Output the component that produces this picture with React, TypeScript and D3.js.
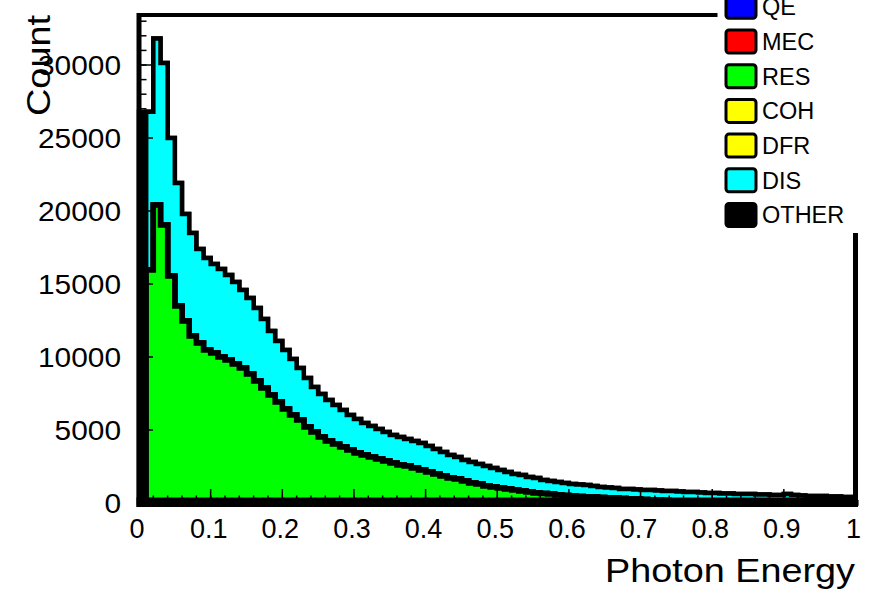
import React, { useEffect } from "react";
import * as d3 from "d3";

// ---------- data (100 bins from 0 to 1) ----------
const X_DOMAIN = [0, 1];
const N_BINS = 100;

const RES = [
  0, 15960, 20410, 19040, 15550, 13500, 12470, 11440, 10960, 10480,
  10280, 10000, 9800, 9520, 9250, 8840, 8360, 7880, 7400, 6920,
  6440, 6030, 5690, 5210, 4860, 4520, 4250, 4040, 3840, 3630,
  3430, 3290, 3150, 3010, 2880, 2740, 2600, 2530, 2400, 2260,
  2120, 1990, 1850, 1710, 1640, 1510, 1370, 1300, 1160, 1100,
  1030, 960, 890, 820, 750, 690, 650, 620, 550, 510,
  480, 450, 410, 410, 380, 340, 340, 310, 270, 270,
  240, 210, 190, 170, 150, 140, 120, 110, 100, 90,
  80, 75, 70, 60, 55, 50, 45, 40, 40, 35,
  30, 30, 28, 25, 22, 20, 18, 16, 15, 14,
];

const DIS = [
  0, 10840, 11410, 11100, 9450, 8420, 7330, 7060, 6440, 6300,
  6090, 6030, 5820, 5620, 5340, 5200, 5000, 4720, 4380, 4180,
  4040, 3830, 3560, 3350, 3090, 2950, 2810, 2670, 2530, 2400,
  2320, 2190, 2120, 2060, 1980, 1920, 1920, 1850, 1850, 1850,
  1780, 1710, 1640, 1580, 1510, 1440, 1440, 1370, 1370, 1300,
  1230, 1160, 1100, 1100, 1030, 1020, 930, 890, 890, 860,
  820, 820, 820, 750, 720, 720, 690, 650, 690, 650,
  650, 680, 670, 650, 670, 650, 630, 640, 620, 600,
  610, 575, 580, 560, 565, 570, 535, 540, 510, 515,
  590, 520, 482, 455, 458, 460, 432, 434, 395, 396,
];

const OTHER = [
  26800, 0, 0, 0, 0, 0, 0, 0, 0, 0, 0, 0, 0, 0, 0, 0, 0, 0, 0, 0,
  0, 0, 0, 0, 0, 0, 0, 0, 0, 0, 0, 0, 0, 0, 0, 0, 0, 0, 0, 0,
  0, 0, 0, 0, 0, 0, 0, 0, 0, 0, 0, 0, 0, 0, 0, 0, 0, 0, 0, 0,
  0, 0, 0, 0, 0, 0, 0, 0, 0, 0, 0, 0, 0, 0, 0, 0, 0, 0, 0, 0,
  0, 0, 0, 0, 0, 0, 0, 0, 0, 0, 0, 0, 0, 0, 0, 0, 0, 0, 0, 0,
];

const QE = [
  0, 0, 0, 0, 0, 0, 0, 0, 0, 0, 0, 0, 0, 0, 0, 0, 0, 0, 0, 0,
  0, 0, 0, 0, 0, 0, 0, 0, 0, 0, 0, 0, 0, 0, 0, 0, 0, 0, 0, 0,
  0, 0, 0, 0, 0, 0, 0, 0, 0, 0, 0, 0, 0, 0, 0, 0, 0, 0, 0, 0,
  0, 0, 0, 0, 0, 0, 0, 0, 0, 0, 0, 0, 0, 0, 0, 0, 0, 0, 0, 0,
  0, 0, 0, 0, 0, 0, 0, 0, 0, 0, 0, 0, 0, 0, 0, 0, 0, 0, 0, 0,
];
const MEC = QE;
const COH = QE;
const DFR = QE;

const SERIES_NAMES = ["QE", "MEC", "RES", "COH", "DFR", "DIS", "OTHER"];
const SERIES_VALUES = [QE, MEC, RES, COH, DFR, DIS, OTHER];
const SERIES_COLORS = ["#0000ff", "#ff0000", "#00ff00", "#ffff00", "#ffff00", "#00ffff", "#000000"];
const SERIES_LINE = [4.5, 4.5, 5.5, 5.5, 5.5, 4.5, 4.5];

const X_TICK_LABELS = ["0", "0.1", "0.2", "0.3", "0.4", "0.5", "0.6", "0.7", "0.8", "0.9", "1"];
const Y_TICK_VALUES = [0, 5000, 10000, 15000, 20000, 25000, 30000];
const Y_MAX = 33425;

const X_TITLE = "Photon Energy";
const Y_TITLE = "Count";

const FONT = "'Liberation Sans', Arial, Helvetica, sans-serif";

export default function App() {
  useEffect(() => {
    document.body.style.margin = "0";
  }, []);

  const W = 872;
  const H = 593;
  const x = d3.scaleLinear().domain(X_DOMAIN).range([139, 855.5]);
  const y = d3.scaleLinear().domain([0, Y_MAX]).range([503, 15]);

  const binW = (X_DOMAIN[1] - X_DOMAIN[0]) / N_BINS;
  const edges = d3.range(N_BINS + 1).map((i) => X_DOMAIN[0] + i * binW);

  // cumulative stack
  const cumulative: number[][] = [];
  SERIES_VALUES.forEach((vals, s) => {
    cumulative.push(vals.map((v, i) => v + (s > 0 ? cumulative[s - 1][i] : 0)));
  });

  const area = d3
    .area<[number, number]>()
    .x((d) => x(d[0]))
    .y0(y(0))
    .y1((d) => y(d[1]))
    .curve(d3.curveStepAfter);

  const pathFor = (vals: number[]) => {
    const pts: [number, number][] = vals.map((v, i) => [edges[i], v]);
    pts.push([edges[N_BINS], vals[N_BINS - 1]]);
    return area(pts) as string;
  };

  const order = d3.range(SERIES_NAMES.length).reverse();

  const xMajor = d3.range(0, 11).map((i) => i / 10);
  const xMinor = d3.range(0, 51).map((i) => i / 50);
  const yMinor = d3.range(0, Y_MAX, 1000);

  const legendY0 = 6.8;
  const legendStep = 34.7;

  return (
    <svg
      width={W}
      height={H}
      viewBox={`0 0 ${W} ${H}`}
      style={{ position: "absolute", left: 0, top: 0, background: "#fff" }}
      fontFamily={FONT}
    >
      <rect x={0} y={0} width={W} height={H} fill="#fff" />

      {/* stacked histograms, drawn from the top of the stack down */}
      {order.map((s) => (
        <path
          key={SERIES_NAMES[s]}
          d={pathFor(cumulative[s])}
          fill={SERIES_COLORS[s]}
          stroke="#000"
          strokeWidth={SERIES_LINE[s]}
          strokeLinejoin="miter"
        />
      ))}

      {/* x axis band */}
      <rect x={136.5} y={497.5} width={721.5} height={9.5} fill="#000" />

      {/* frame */}
      <line x1={139} x2={139} y1={13} y2={507} stroke="#000" strokeWidth={5} />
      <line x1={137} x2={858} y1={15} y2={15} stroke="#000" strokeWidth={4} />
      <line x1={855.5} x2={855.5} y1={13} y2={507} stroke="#000" strokeWidth={5} />

      {/* x ticks */}
      {xMinor.map((t, i) => (
        <line key={"xm" + i} x1={x(t)} x2={x(t)} y1={503} y2={495.5} stroke="#000" strokeWidth={1.5} />
      ))}
      {xMajor.map((t, i) => (
        <line key={"xM" + i} x1={x(t)} x2={x(t)} y1={503} y2={489} stroke="#000" strokeWidth={1.5} />
      ))}
      {xMajor.map((t, i) => (
        <text key={"xl" + i} x={x(t) - 2} y={538} fontSize={27} textAnchor="middle" fill="#000">
          {X_TICK_LABELS[i]}
        </text>
      ))}

      {/* y ticks */}
      {yMinor.map((t, i) => (
        <line key={"ym" + i} x1={139} x2={146.5} y1={y(t)} y2={y(t)} stroke="#000" strokeWidth={1.5} />
      ))}
      {Y_TICK_VALUES.map((t, i) => (
        <line key={"yM" + i} x1={139} x2={153} y1={y(t)} y2={y(t)} stroke="#000" strokeWidth={1.5} />
      ))}
      {Y_TICK_VALUES.map((t, i) => (
        <text
          key={"yl" + i}
          x={121}
          y={y(t)}
          dy="0.36em"
          fontSize={28}
          textAnchor="end"
          fill="#000"
          textLength={String(t).length * 16.6}
          lengthAdjust="spacingAndGlyphs"
        >
          {String(t)}
        </text>
      ))}

      {/* titles */}
      <text
        transform="translate(50,15) rotate(-90)"
        fontSize={33}
        textAnchor="end"
        fill="#000"
        textLength={101}
        lengthAdjust="spacingAndGlyphs"
      >
        {Y_TITLE}
      </text>
      <text
        x={855}
        y={581.5}
        fontSize={33}
        textAnchor="end"
        fill="#000"
        textLength={250}
        lengthAdjust="spacingAndGlyphs"
      >
        {X_TITLE}
      </text>

      {/* legend */}
      <rect x={717.5} y={-2} width={160} height={235} fill="#fff" />
      {SERIES_NAMES.map((name, i) => {
        const cy = legendY0 + i * legendStep;
        return (
          <g key={"lg" + name}>
            <rect
              x={726}
              y={cy - 11.5}
              width={30}
              height={23}
              rx={3}
              fill={SERIES_COLORS[i]}
              stroke="#000"
              strokeWidth={3}
            />
            <text x={762} y={cy} dy="0.36em" fontSize={23.5} fill="#000">
              {name}
            </text>
          </g>
        );
      })}
    </svg>
  );
}
